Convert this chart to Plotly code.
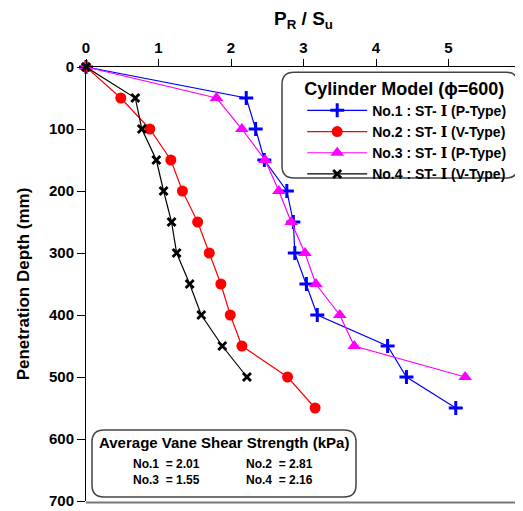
import plotly.graph_objects as go

depth_1 = [0, 50, 100, 150, 200, 250, 300, 350, 400, 450, 500, 550]
ratio_1 = [0, 2.21, 2.34, 2.46, 2.77, 2.86, 2.88, 3.04, 3.19, 4.16, 4.42, 5.10]

depth_2 = [0, 50, 100, 150, 200, 250, 300, 350, 400, 450, 500, 550]
ratio_2 = [0, 0.48, 0.88, 1.17, 1.33, 1.54, 1.70, 1.86, 1.99, 2.15, 2.78, 3.16]

depth_3 = [0, 50, 100, 150, 200, 250, 300, 350, 400, 450, 500]
ratio_3 = [0, 1.80, 2.15, 2.47, 2.66, 2.83, 3.02, 3.17, 3.50, 3.70, 5.23]

depth_4 = [0, 50, 100, 150, 200, 250, 300, 350, 400, 450, 500]
ratio_4 = [0, 0.68, 0.77, 0.97, 1.07, 1.18, 1.25, 1.43, 1.59, 1.88, 2.22]

name_ids = ["No.1", "No.2", "No.3", "No.4"]
name_types = ["(P-Type)", "(V-Type)", "(P-Type)", "(V-Type)"]
colors = ["#0000FF", "#FF0000", "#FF00FF", "#000000"]

x_ticks = [0, 1, 2, 3, 4, 5, 6]
y_ticks = [0, 100, 200, 300, 400, 500, 600, 700]

avg_labels = ["No.1  = 2.01", "No.2  = 2.81", "No.3  = 1.55", "No.4  = 2.16"]

FONT = "Arial, Liberation Sans, sans-serif"
SERIF_I = "<span style=\"font-family:'Liberation Serif','DejaVu Serif',serif\">Ⅰ</span>"

markers = [
    dict(symbol="cross-thin", color=colors[0], size=10, line=dict(color=colors[0], width=3)),
    dict(symbol="circle", color=colors[1], size=11, line=dict(width=0)),
    dict(symbol="triangle-up", color=colors[2], size=12, line=dict(width=0)),
    dict(symbol="x-thin", color=colors[3], size=8, line=dict(color=colors[3], width=2.8)),
]

fig = go.Figure()
series = [(ratio_1, depth_1), (ratio_2, depth_2), (ratio_3, depth_3), (ratio_4, depth_4)]
for i, (xs, ys) in enumerate(series):
    label = f"<b>{name_ids[i]} : ST- {SERIF_I} {name_types[i]}</b>"
    fig.add_trace(go.Scatter(x=xs, y=ys, mode="lines+markers", name=label,
                             line=dict(color=colors[i], width=1.2), marker=markers[i],
                             cliponaxis=False))


def rounded(x0, y0, x1, y1, rx, ry):
    return (f"M {x0+rx},{y0} L {x1-rx},{y0} Q {x1},{y0} {x1},{y0+ry} "
            f"L {x1},{y1-ry} Q {x1},{y1} {x1-rx},{y1} L {x0+rx},{y1} "
            f"Q {x0},{y1} {x0},{y1-ry} L {x0},{y0+ry} Q {x0},{y0} {x0+rx},{y0} Z")

# The page body has an 8px margin, so the figure is 8px smaller and margins shifted.
W, H = 435.0, 434.0
rx, ry = 12 / W, 12 / H
shapes = [
    dict(type="path", xref="paper", yref="paper",
         path=rounded(0.4506, 0.744, 0.993, 0.988, rx, ry),
         line=dict(color="#444444", width=1.5), fillcolor="rgba(255,255,255,0)", layer="below"),
    dict(type="path", xref="paper", yref="paper",
         path=rounded(0.0138, 0.0092, 0.6207, 0.1636, rx, ry),
         line=dict(color="#444444", width=1.5), fillcolor="rgba(255,255,255,0)", layer="below"),
    dict(type="line", xref="paper", yref="paper", x0=1.0 + 0.5 / W, x1=1.0 + 0.5 / W,
         y0=-2.5 / H, y1=1.0 + 8 / H, line=dict(color="#777777", width=3)),
    dict(type="line", xref="paper", yref="paper", x0=0, x1=1.0 + 2 / W,
         y0=-1.5 / H, y1=-1.5 / H, line=dict(color="#777777", width=2)),
]

annotations = [
    dict(text="<b>Average Vane Shear Strength (kPa)</b>", xref="paper", yref="paper",
         x=0.317, y=0.134, xanchor="center", yanchor="middle", showarrow=False,
         font=dict(family=FONT, size=15, color="black")),
]
pos = [(0.103, 0.085), (0.363, 0.085), (0.103, 0.048), (0.363, 0.048)]
for lab, (px, py) in zip(avg_labels, pos):
    annotations.append(dict(text=f"<b>{lab}</b>", xref="paper", yref="paper", x=px, y=py,
                            xanchor="left", yanchor="middle", showarrow=False,
                            font=dict(family=FONT, size=12, color="black")))

fig.update_layout(
    width=515, height=503,
    margin=dict(l=78, r=2, t=59, b=10, autoexpand=False),
    paper_bgcolor="white", plot_bgcolor="white",
    font=dict(family=FONT, color="black"),
    showlegend=True,
    legend=dict(x=0.497, y=0.99, xanchor="left", yanchor="top",
                bgcolor="rgba(0,0,0,0)", borderwidth=0,
                font=dict(family=FONT, size=14, color="black"),
                title=dict(text="<b>Cylinder Model (ϕ=600)</b>", side="top",
                           font=dict(family=FONT, size=18, color="black")),
                tracegroupgap=0, itemwidth=60),
    xaxis=dict(side="top", range=[0, 6], tickvals=x_ticks, ticktext=[f"<b>{v}</b>" for v in x_ticks],
               ticks="outside", ticklen=7, tickcolor="black", showline=True, linecolor="black",
               linewidth=1, showgrid=False, zeroline=False, automargin=False,
               tickfont=dict(family=FONT, size=15, color="black"),
               title=dict(text="<b>P<sub>R</sub> / S<sub>u</sub></b>",
                          font=dict(family=FONT, size=19, color="black"))),
    yaxis=dict(range=[700, 0], tickvals=y_ticks, ticktext=[f"<b>{v}</b>" for v in y_ticks],
               ticks="outside", ticklen=8, tickcolor="black", showline=True, linecolor="black",
               linewidth=1, showgrid=False, zeroline=False, automargin=False,
               tickfont=dict(family=FONT, size=15, color="black"),
               title=dict(text="<b>Penetration Depth (mm)</b>",
                          font=dict(family=FONT, size=17, color="black"))),
    shapes=shapes, annotations=annotations,
)
fig.write_html("out.html")
